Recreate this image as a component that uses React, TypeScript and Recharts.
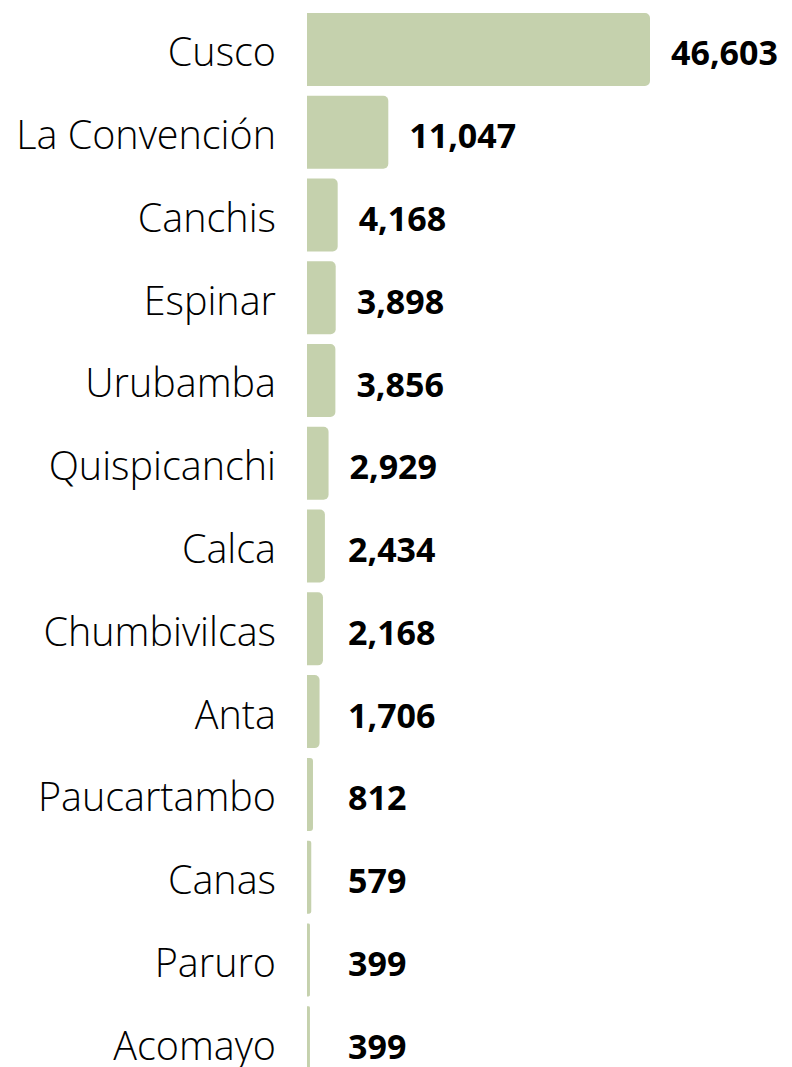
import React from "react";
import { BarChart, Bar, XAxis, YAxis, LabelList } from "recharts";

const provinces = [
  "Cusco",
  "La Convención",
  "Canchis",
  "Espinar",
  "Urubamba",
  "Quispicanchi",
  "Calca",
  "Chumbivilcas",
  "Anta",
  "Paucartambo",
  "Canas",
  "Paruro",
  "Acomayo",
];
const values = [46603, 11047, 4168, 3898, 3856, 2929, 2434, 2168, 1706, 812, 579, 399, 399];

const data = provinces.map((name, i) => ({ name, value: values[i] }));

const BAR_COLOR = "#c5d1ad";
const FONT = "'Open Sans', 'Noto Sans', sans-serif";

const CategoryTick = (props: any) => {
  const { x, y, payload } = props;
  return (
    <text
      x={x}
      y={y + 2}
      textAnchor="end"
      dominantBaseline="central"
      fontFamily={FONT}
      fontWeight={300}
      fontSize={39.5}
      fill="#000"
    >
      {payload.value}
    </text>
  );
};

const ValueLabel = (props: any) => {
  const { x, y, width, height, value } = props;
  const lx = x + Math.max(width + 21, 41);
  return (
    <text
      x={lx}
      y={y + height / 2 + 3}
      textAnchor="start"
      dominantBaseline="central"
      fontFamily={FONT}
      fontWeight={700}
      fontSize={34}
      fill="#000"
    >
      {Number(value).toLocaleString("en-US")}
    </text>
  );
};

export default function App() {
  return (
    <div style={{ width: 784, height: 1076 }}>
      <BarChart
        width={784}
        height={1076}
        data={data}
        layout="vertical"
        margin={{ top: 0, right: 142, bottom: 0, left: 0 }}
        barCategoryGap="6%"
      >
        <XAxis type="number" hide domain={[0, "dataMax"]} />
        <YAxis
          type="category"
          dataKey="name"
          width={299}
          axisLine={false}
          tickLine={false}
          tickSize={0}
          tickMargin={31}
          interval={0}
          tick={<CategoryTick />}
        />
        <Bar dataKey="value" fill={BAR_COLOR} radius={[0, 5, 5, 0]} isAnimationActive={false}>
          <LabelList dataKey="value" content={<ValueLabel />} />
        </Bar>
      </BarChart>
    </div>
  );
}
